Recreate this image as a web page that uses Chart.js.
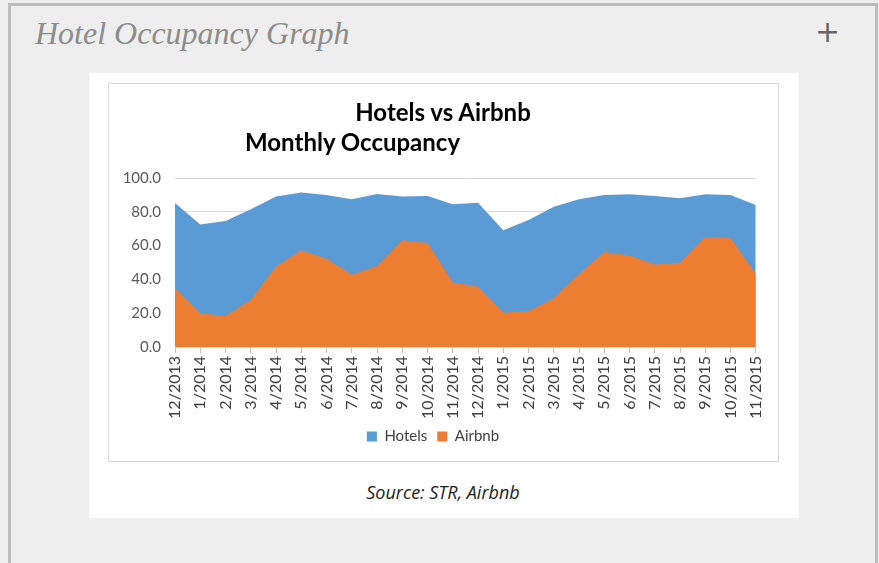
<!DOCTYPE html>
<html lang="en">
	<head>
		<meta charset="UTF-8" />
		<title>Hotel Occupancy Graph</title>
		<script src="https://cdn.jsdelivr.net/npm/chart.js"></script>
		<style>
			html, body { margin: 0; padding: 0; }
			body { width: 879px; height: 563px; background: #eeeeee; position: relative; overflow: hidden; }
			#frame { position: absolute; left: 8px; top: 3px; width: 864px; height: 580px; border: 3px solid #bdbdbd; }
			#head { position: absolute; left: 35px; top: 15px; font: italic 32px "Liberation Serif", serif; color: #8c8c8c; }
			#plus { position: absolute; left: 815px; top: 14px; font: 30px "DejaVu Sans", sans-serif; color: #666; }
			#panel { position: absolute; left: 89px; top: 73px; width: 710px; height: 445px; background: #fff; }
			#box { position: absolute; left: 108px; top: 83px; width: 669px; height: 377px; border: 1px solid #d9d9d9; }
			#t1 { position: absolute; left: 0; width: 886px; top: 97px; text-align: center; font: bold 24px Lato, sans-serif; color: #000; }
			#t2 { position: absolute; left: 245px; top: 127px; font: bold 24px Lato, sans-serif; color: #000; }
			#src { position: absolute; left: 0; width: 886px; top: 480px; text-align: center; font: italic 18px "Open Sans", sans-serif; color: #222; }
			#myChart { position: absolute; left: 109px; top: 84px; }
		</style>
	</head>

	<body>
		<div id="frame"></div>
		<div id="head">Hotel Occupancy Graph</div>
		<div id="plus">+</div>
		<div id="panel"></div>
		<div id="box"></div>
		<canvas id="myChart" width="669" height="377"></canvas>
		<div id="t1">Hotels vs Airbnb</div>
		<div id="t2">Monthly Occupancy</div>
		<div id="src">Source: STR, Airbnb</div>
	</body>
	<script>
		const months = [
			"12/2013", "1/2014", "2/2014", "3/2014", "4/2014", "5/2014", "6/2014", "7/2014",
			"8/2014", "9/2014", "10/2014", "11/2014", "12/2014", "1/2015", "2/2015", "3/2015",
			"4/2015", "5/2015", "6/2015", "7/2015", "8/2015", "9/2015", "10/2015", "11/2015",
		];
		const hotels = [
			85.2, 72.5, 74.5, 81.5, 89.0, 91.4, 90.0, 87.5, 90.6, 89.0, 89.4, 84.5,
			85.4, 69.1, 75.1, 83.0, 87.5, 90.0, 90.4, 89.4, 88.0, 90.4, 90.0, 84.0,
		];
		const airbnb = [
			34.7, 20.0, 18.3, 27.9, 47.6, 57.2, 52.2, 42.8, 48.0, 63.1, 61.5, 38.2,
			35.8, 20.3, 21.3, 28.9, 43.2, 56.2, 54.2, 48.8, 49.8, 65.1, 64.5, 43.2,
		];

		Chart.defaults.font.family = "Lato";

		const ctx = document.getElementById("myChart");
		const myChart = new Chart(ctx, {
			type: "line",
			data: {
				labels: months,
				datasets: [
					{
						label: "Hotels",
						data: hotels,
						backgroundColor: "#5b9bd5",
						borderColor: "#5b9bd5",
						borderWidth: 0,
						pointRadius: 0,
						fill: "origin",
						order: 1,
					},
					{
						label: "Airbnb",
						data: airbnb,
						backgroundColor: "#ed7d31",
						borderColor: "#ed7d31",
						borderWidth: 0,
						pointRadius: 0,
						fill: "origin",
						order: 0,
					},
				],
			},
			options: {
				responsive: false,
				animation: false,
				devicePixelRatio: 1,
				layout: { padding: { top: 94, right: 21, left: 0, bottom: 7 } },
				plugins: {
					tooltip: { enabled: false },
					legend: {
						position: "bottom",
						labels: {
							boxWidth: 10,
							boxHeight: 10,
							padding: 10,
							color: "#404040",
							font: { size: 15 },
							sort: (a, b) => a.datasetIndex - b.datasetIndex,
						},
					},
				},
				scales: {
					y: {
						min: 0,
						max: 100,
						ticks: {
							stepSize: 20,
							color: "#595959",
							font: { size: 15 },
							padding: 14,
							callback: (v) => v.toFixed(1),
						},
						grid: { color: "#d9d9d9", drawTicks: false },
						border: { display: false },
						afterFit: (s) => { s.width = 66; },
					},
					x: {
						offset: false,
						ticks: {
							autoSkip: false,
							maxRotation: 90,
							minRotation: 90,
							color: "#404040",
							font: { size: 16 },
							padding: 3,
						},
						grid: { drawOnChartArea: false, tickLength: 6, color: "#bfbfbf" },
						border: { color: "#d9d9d9" },
						afterFit: (s) => { s.height = 72; },
					},
				},
			},
		});
	</script>
</html>
